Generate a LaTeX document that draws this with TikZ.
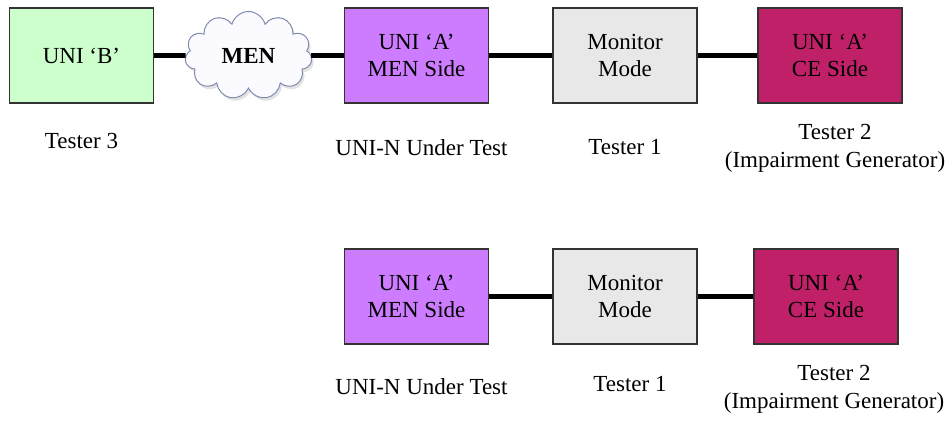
\documentclass[tikz,border=0pt]{standalone}
\usepackage{fontspec}
\setmainfont{Liberation Serif}
\usepackage{tikz}
\usetikzlibrary{shapes.symbols, shadows}
\definecolor{unigreen}{RGB}{204,255,204}
\definecolor{menviolet}{RGB}{206,124,255}
\definecolor{monigray}{RGB}{232,232,232}
\definecolor{cecrimson}{RGB}{192,32,104}
\definecolor{cloudline}{RGB}{128,140,176}
\tikzstyle{link} = [line width=4.8pt]
\tikzstyle{unibox} = [rectangle, draw=black!80, line width=1.2pt, minimum width=144pt, minimum height=95pt, align=center, inner sep=0pt]
\tikzstyle{mencloud} = [cloud, cloud puffs=11, aspect=1.45, draw=cloudline, line width=1pt, fill=blue!2, minimum width=127pt, minimum height=88pt, drop shadow={shadow xshift=2pt, shadow yshift=-3pt, fill=gray!45}]
\tikzstyle{tag} = [align=center]

\begin{document}
\begin{tikzpicture}[x=1pt, y=-1pt, node distance=207pt, font=\fontsize{23}{27.5}\selectfont]
		\useasboundingbox (0,0) rectangle (952,426);
		% upper chain: through the MEN
		\node (unib) [unibox, fill=unigreen] at (81.5,55.5) {UNI ‘B’};
		\node (descunib) [tag, below of=unib, node distance=85pt] {Tester 3};
		\node (men) [mencloud, node distance=167pt, right of=unib, font=\fontsize{23}{27}\selectfont\bfseries] {MEN};
		\node (umen) [unibox, fill=menviolet, node distance=168pt, right of=men] {UNI ‘A’\\MEN Side};
		\node (descumen) [tag, below of=umen, node distance=92pt, xshift=5pt] {UNI-N Under Test};
		\node (mon) [unibox, fill=monigray, right of=umen, xshift=1.5pt] {Monitor\\Mode};
		\node (descmon) [tag, below of=mon, node distance=92pt] {Tester 1};
		\node (ce) [unibox, fill=cecrimson, right of=mon, xshift=-2pt] {UNI ‘A’\\CE Side};
		\node (descce) [tag, below of=ce, node distance=93pt, xshift=5pt] {Tester 2\\(Impairment Generator)};
		\draw [link] (unib) -- (men);
		\draw [link] (men) -- (umen);
		\draw [link] (umen) -- (mon);
		\draw [link] (mon) -- (ce);
		% lower chain: direct
		\node (umen2) [unibox, fill=menviolet] at (416.5,296.5) {UNI ‘A’\\MEN Side};
		\node (descumen2) [tag, below of=umen2, node distance=90pt, xshift=5pt] {UNI-N Under Test};
		\node (mon2) [unibox, fill=monigray, right of=umen2, xshift=1.5pt] {Monitor\\Mode};
		\node (descmon2) [tag, below of=mon2, node distance=88pt, xshift=5pt] {Tester 1};
		\node (ce2) [unibox, fill=cecrimson, right of=mon2, xshift=-6pt] {UNI ‘A’\\CE Side};
		\node (descce2) [tag, below of=ce2, node distance=93pt, xshift=8pt] {Tester 2\\(Impairment Generator)};
		\draw [link] (umen2) -- (mon2);
		\draw [link] (mon2) -- (ce2);
\end{tikzpicture}
\end{document}
